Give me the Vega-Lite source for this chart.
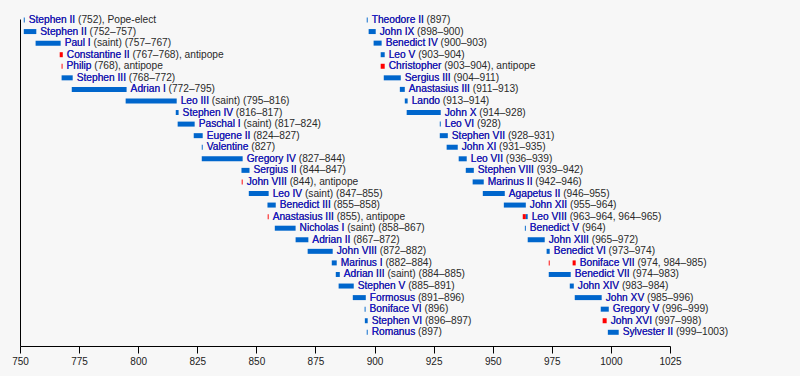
{
  "$schema": "https://vega.github.io/schema/vega-lite/v6.json",
  "width": 650,
  "height": 327,
  "autosize": {"type": "none"},
  "padding": {"left": 20, "top": 19, "right": 130, "bottom": 30},
  "background": "#f7f7f7",
  "config": {"view": {"stroke": null}, "font": "Liberation Sans"},
  "datasets": {
    "bars": [
      {"r": 0, "s": 751.6, "e": 752.0, "t": "pope"},
      {"r": 1, "s": 751.6, "e": 756.9, "t": "pope"},
      {"r": 2, "s": 756.6, "e": 767.2, "t": "pope"},
      {"r": 3, "s": 766.8, "e": 768.1, "t": "antipope"},
      {"r": 4, "s": 767.6, "e": 768.0, "t": "antipope"},
      {"r": 5, "s": 767.6, "e": 772.3, "t": "pope"},
      {"r": 6, "s": 771.9, "e": 795.1, "t": "pope"},
      {"r": 7, "s": 794.7, "e": 816.3, "t": "pope"},
      {"r": 8, "s": 815.9, "e": 817.1, "t": "pope"},
      {"r": 9, "s": 816.7, "e": 823.9, "t": "pope"},
      {"r": 10, "s": 823.5, "e": 827.3, "t": "pope"},
      {"r": 11, "s": 826.9, "e": 827.3, "t": "pope"},
      {"r": 12, "s": 826.9, "e": 844.2, "t": "pope"},
      {"r": 13, "s": 843.7, "e": 847.1, "t": "pope"},
      {"r": 14, "s": 843.8, "e": 844.2, "t": "antipope"},
      {"r": 15, "s": 846.8, "e": 855.2, "t": "pope"},
      {"r": 16, "s": 854.7, "e": 858.2, "t": "pope"},
      {"r": 17, "s": 854.8, "e": 855.2, "t": "antipope"},
      {"r": 18, "s": 857.8, "e": 866.6, "t": "pope"},
      {"r": 19, "s": 866.6, "e": 872.0, "t": "pope"},
      {"r": 20, "s": 871.7, "e": 882.3, "t": "pope"},
      {"r": 21, "s": 881.9, "e": 884.0, "t": "pope"},
      {"r": 22, "s": 883.6, "e": 885.3, "t": "pope"},
      {"r": 23, "s": 884.8, "e": 891.2, "t": "pope"},
      {"r": 24, "s": 890.8, "e": 896.3, "t": "pope"},
      {"r": 25, "s": 895.8, "e": 896.2, "t": "pope"},
      {"r": 26, "s": 895.9, "e": 897.1, "t": "pope"},
      {"r": 27, "s": 896.7, "e": 897.1, "t": "pope"},
      {"r": 0, "s": 896.7, "e": 897.1, "t": "pope"},
      {"r": 1, "s": 897.5, "e": 900.5, "t": "pope"},
      {"r": 2, "s": 899.6, "e": 903.0, "t": "pope"},
      {"r": 3, "s": 902.6, "e": 904.3, "t": "pope"},
      {"r": 4, "s": 902.6, "e": 904.3, "t": "antipope"},
      {"r": 5, "s": 903.9, "e": 911.1, "t": "pope"},
      {"r": 6, "s": 910.7, "e": 912.8, "t": "pope"},
      {"r": 7, "s": 912.8, "e": 914.0, "t": "pope"},
      {"r": 8, "s": 913.6, "e": 928.0, "t": "pope"},
      {"r": 9, "s": 927.6, "e": 928.0, "t": "pope"},
      {"r": 10, "s": 927.6, "e": 931.0, "t": "pope"},
      {"r": 11, "s": 930.5, "e": 935.2, "t": "pope"},
      {"r": 12, "s": 935.6, "e": 939.0, "t": "pope"},
      {"r": 13, "s": 938.6, "e": 942.0, "t": "pope"},
      {"r": 14, "s": 941.5, "e": 946.2, "t": "pope"},
      {"r": 15, "s": 945.8, "e": 955.1, "t": "pope"},
      {"r": 16, "s": 954.7, "e": 964.0, "t": "pope"},
      {"r": 17, "s": 962.7, "e": 964.0, "t": "antipope"},
      {"r": 17, "s": 964.0, "e": 964.8, "t": "pope"},
      {"r": 18, "s": 963.6, "e": 964.0, "t": "pope"},
      {"r": 19, "s": 964.8, "e": 972.0, "t": "pope"},
      {"r": 20, "s": 972.8, "e": 974.1, "t": "pope"},
      {"r": 21, "s": 973.7, "e": 974.1, "t": "antipope"},
      {"r": 21, "s": 983.8, "e": 985.1, "t": "antipope"},
      {"r": 22, "s": 973.7, "e": 983.0, "t": "pope"},
      {"r": 23, "s": 982.6, "e": 984.3, "t": "pope"},
      {"r": 24, "s": 984.7, "e": 996.1, "t": "pope"},
      {"r": 25, "s": 995.7, "e": 999.1, "t": "pope"},
      {"r": 26, "s": 996.5, "e": 998.2, "t": "antipope"},
      {"r": 27, "s": 998.7, "e": 1003.3, "t": "pope"}
    ],
    "labels": [
      {"r": 0, "x": 752.0, "name": "Stephen II", "label": "Stephen II (752), Pope-elect"},
      {"r": 1, "x": 756.9, "name": "Stephen II", "label": "Stephen II (752–757)"},
      {"r": 2, "x": 767.2, "name": "Paul I", "label": "Paul I (saint) (757–767)"},
      {"r": 3, "x": 768.1, "name": "Constantine II", "label": "Constantine II (767–768), antipope"},
      {"r": 4, "x": 768.0, "name": "Philip", "label": "Philip (768), antipope"},
      {"r": 5, "x": 772.3, "name": "Stephen III", "label": "Stephen III (768–772)"},
      {"r": 6, "x": 795.1, "name": "Adrian I", "label": "Adrian I (772–795)"},
      {"r": 7, "x": 816.3, "name": "Leo III", "label": "Leo III (saint) (795–816)"},
      {"r": 8, "x": 817.1, "name": "Stephen IV", "label": "Stephen IV (816–817)"},
      {"r": 9, "x": 823.9, "name": "Paschal I", "label": "Paschal I (saint) (817–824)"},
      {"r": 10, "x": 827.3, "name": "Eugene II", "label": "Eugene II (824–827)"},
      {"r": 11, "x": 827.3, "name": "Valentine", "label": "Valentine (827)"},
      {"r": 12, "x": 844.2, "name": "Gregory IV", "label": "Gregory IV (827–844)"},
      {"r": 13, "x": 847.1, "name": "Sergius II", "label": "Sergius II (844–847)"},
      {"r": 14, "x": 844.2, "name": "John VIII", "label": "John VIII (844), antipope"},
      {"r": 15, "x": 855.2, "name": "Leo IV", "label": "Leo IV (saint) (847–855)"},
      {"r": 16, "x": 858.2, "name": "Benedict III", "label": "Benedict III (855–858)"},
      {"r": 17, "x": 855.2, "name": "Anastasius III", "label": "Anastasius III (855), antipope"},
      {"r": 18, "x": 866.6, "name": "Nicholas I", "label": "Nicholas I (saint) (858–867)"},
      {"r": 19, "x": 872.0, "name": "Adrian II", "label": "Adrian II (867–872)"},
      {"r": 20, "x": 882.3, "name": "John VIII", "label": "John VIII (872–882)"},
      {"r": 21, "x": 884.0, "name": "Marinus I", "label": "Marinus I (882–884)"},
      {"r": 22, "x": 885.3, "name": "Adrian III", "label": "Adrian III (saint) (884–885)"},
      {"r": 23, "x": 891.2, "name": "Stephen V", "label": "Stephen V (885–891)"},
      {"r": 24, "x": 896.3, "name": "Formosus", "label": "Formosus (891–896)"},
      {"r": 25, "x": 896.2, "name": "Boniface VI", "label": "Boniface VI (896)"},
      {"r": 26, "x": 897.1, "name": "Stephen VI", "label": "Stephen VI (896–897)"},
      {"r": 27, "x": 897.1, "name": "Romanus", "label": "Romanus (897)"},
      {"r": 0, "x": 897.1, "name": "Theodore II", "label": "Theodore II (897)"},
      {"r": 1, "x": 900.5, "name": "John IX", "label": "John IX (898–900)"},
      {"r": 2, "x": 903.0, "name": "Benedict IV", "label": "Benedict IV (900–903)"},
      {"r": 3, "x": 904.3, "name": "Leo V", "label": "Leo V (903–904)"},
      {"r": 4, "x": 904.3, "name": "Christopher", "label": "Christopher (903–904), antipope"},
      {"r": 5, "x": 911.1, "name": "Sergius III", "label": "Sergius III (904–911)"},
      {"r": 6, "x": 912.8, "name": "Anastasius III", "label": "Anastasius III (911–913)"},
      {"r": 7, "x": 914.0, "name": "Lando", "label": "Lando (913–914)"},
      {"r": 8, "x": 928.0, "name": "John X", "label": "John X (914–928)"},
      {"r": 9, "x": 928.0, "name": "Leo VI", "label": "Leo VI (928)"},
      {"r": 10, "x": 931.0, "name": "Stephen VII", "label": "Stephen VII (928–931)"},
      {"r": 11, "x": 935.2, "name": "John XI", "label": "John XI (931–935)"},
      {"r": 12, "x": 939.0, "name": "Leo VII", "label": "Leo VII (936–939)"},
      {"r": 13, "x": 942.0, "name": "Stephen VIII", "label": "Stephen VIII (939–942)"},
      {"r": 14, "x": 946.2, "name": "Marinus II", "label": "Marinus II (942–946)"},
      {"r": 15, "x": 955.1, "name": "Agapetus II", "label": "Agapetus II (946–955)"},
      {"r": 16, "x": 964.0, "name": "John XII", "label": "John XII (955–964)"},
      {"r": 17, "x": 964.8, "name": "Leo VIII", "label": "Leo VIII (963–964, 964–965)"},
      {"r": 18, "x": 964.0, "name": "Benedict V", "label": "Benedict V (964)"},
      {"r": 19, "x": 972.0, "name": "John XIII", "label": "John XIII (965–972)"},
      {"r": 20, "x": 974.1, "name": "Benedict VI", "label": "Benedict VI (973–974)"},
      {"r": 21, "x": 985.1, "name": "Boniface VII", "label": "Boniface VII (974, 984–985)"},
      {"r": 22, "x": 983.0, "name": "Benedict VII", "label": "Benedict VII (974–983)"},
      {"r": 23, "x": 984.3, "name": "John XIV", "label": "John XIV (983–984)"},
      {"r": 24, "x": 996.1, "name": "John XV", "label": "John XV (985–996)"},
      {"r": 25, "x": 999.1, "name": "Gregory V", "label": "Gregory V (996–999)"},
      {"r": 26, "x": 998.2, "name": "John XVI", "label": "John XVI (997–998)"},
      {"r": 27, "x": 1003.3, "name": "Sylvester II", "label": "Sylvester II (999–1003)"}
    ]
  },
  "layer": [
    {
      "data": {"name": "bars"},
      "mark": {"type": "bar", "size": 5},
      "encoding": {
        "x": {
          "field": "s", "type": "quantitative",
          "scale": {"domain": [750, 1025], "nice": false, "zero": false},
          "axis": {
            "values": [750, 775, 800, 825, 850, 875, 900, 925, 950, 975, 1000, 1025],
            "format": "d", "title": null, "grid": false, "labelFlush": false,
            "domainColor": "#000", "tickColor": "#000", "tickSize": 7,
            "labelFontSize": 10, "labelColor": "#222", "labelPadding": 3,
            "labelFont": "Liberation Sans"
          }
        },
        "x2": {"field": "e"},
        "y": {
          "field": "r", "type": "quantitative",
          "scale": {"domain": [-0.086, 28.184], "nice": false, "zero": false, "reverse": true, "padding": 0},
          "axis": {"title": null, "labels": false, "ticks": false, "grid": false, "domainColor": "#000"}
        },
        "color": {
          "field": "t", "type": "nominal",
          "scale": {"domain": ["pope", "antipope"], "range": ["#0066cc", "#ff0000"]},
          "legend": null
        }
      }
    },
    {
      "data": {"name": "labels"},
      "mark": {"type": "text", "align": "left", "baseline": "middle", "dx": 4, "fontSize": 10.2, "font": "Liberation Sans", "color": "#2a2a2a"},
      "encoding": {
        "x": {"field": "x", "type": "quantitative"},
        "y": {"field": "r", "type": "quantitative"},
        "text": {"field": "label"}
      }
    },
    {
      "data": {"name": "labels"},
      "mark": {"type": "text", "align": "left", "baseline": "middle", "dx": 4, "fontSize": 10.2, "font": "Liberation Sans", "color": "#1a1ad6"},
      "encoding": {
        "x": {"field": "x", "type": "quantitative"},
        "y": {"field": "r", "type": "quantitative"},
        "text": {"field": "name"}
      }
    }
  ]
}
